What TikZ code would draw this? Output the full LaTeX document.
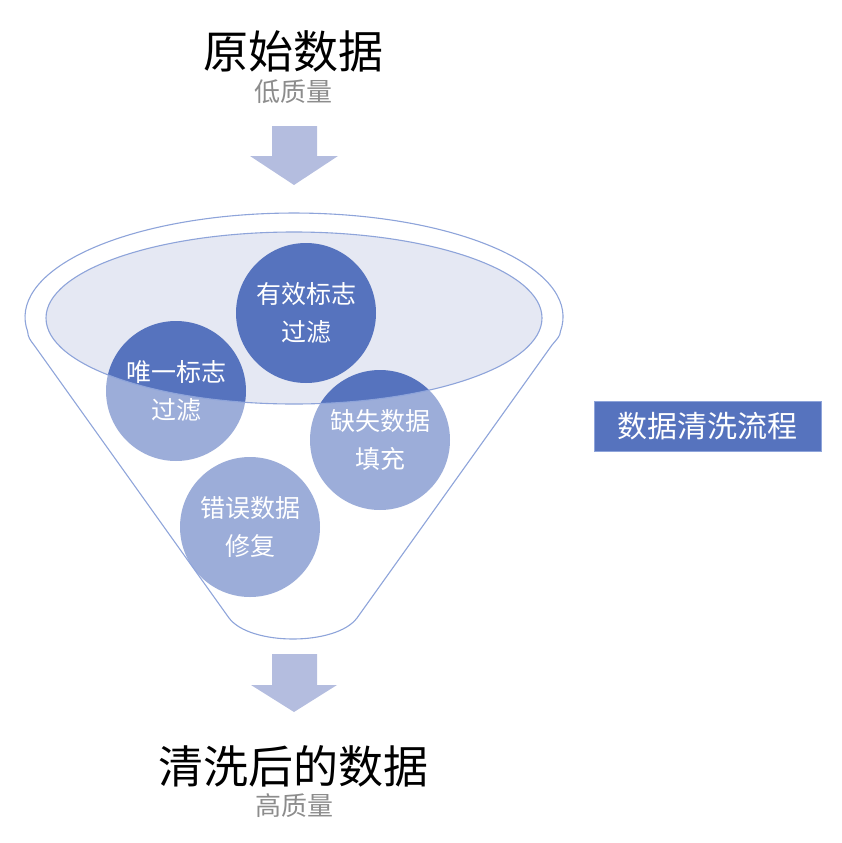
\documentclass[tikz,border=0pt]{standalone}
\usepackage{fontspec}
\usepackage{tikz}
\usetikzlibrary{positioning}
\newfontfamily\cjk{Noto Sans CJK SC}
\definecolor{cblue}{HTML}{5673BE}
\definecolor{cedge}{HTML}{8EA4DA}
\definecolor{cmouth}{HTML}{E5E8F3}
\definecolor{carrow}{HTML}{B4BDDF}
\definecolor{cgray}{HTML}{8C8C8C}

\begin{document}
\begin{tikzpicture}[x=1pt, y=-1pt,
    bubble/.style={circle, fill=cblue, minimum size=140pt, inner sep=0pt},
    bubbletext/.style={text=white, align=center, font=\cjk\fontsize{25}{38}\selectfont},
    bigtitle/.style={font=\cjk\fontsize{45}{54}\selectfont},
    subtitle/.style={text=cgray, font=\cjk\fontsize{26}{30}\selectfont},
    funnelline/.style={cedge, line width=1.1pt}]
    \useasboundingbox (0,0) rectangle (842,843);

    % Input and output titles
    \node[bigtitle] (raw) at (293,51) {原始数据};
    \node[subtitle] (rawq) at (293,92) {低质量};
    \node[bigtitle] (clean) at (293,766) {清洗后的数据};
    \node[subtitle] (cleanq) at (294,806) {高质量};

    % Block arrows
    \fill[carrow] (272,126) -- (317,126) -- (317,156) -- (338,156) -- (294,185)
        -- (250,156) -- (272,156) -- cycle;
    \fill[carrow] (272,654) -- (317,654) -- (317,685) -- (337,685) -- (294,712)
        -- (251,685) -- (272,685) -- cycle;

    % Funnel mouth
    \fill[cmouth] (294,318) ellipse [x radius=248, y radius=86];

    % Cleaning steps
    \node[bubble] (valid) at (306,313) {};
    \node[bubble] (unique) at (176,391) {};
    \node[bubble] (missing) at (380,440) {};
    \node[bubble] (error) at (250,527) {};

    % Glass of the funnel body
    \fill[white, opacity=0.42, even odd rule]
        (34,345) -- (229,618) .. controls (250,646) and (336,646) .. (357,618)
        -- (552,345) .. controls (558,338) and (560,336) .. (560.4,331.5)
        arc[start angle=8, end angle=-188, x radius=269, y radius=104]
        .. controls (28,337) and (30,340) .. (34,345) -- cycle
        (294,318) ellipse [x radius=248, y radius=86];
    \draw[funnelline]
        (34,345) -- (229,618) .. controls (250,646) and (336,646) .. (357,618)
        -- (552,345) .. controls (558,338) and (560,336) .. (560.4,331.5)
        arc[start angle=8, end angle=-188, x radius=269, y radius=104]
        .. controls (28,337) and (30,340) .. (34,345) -- cycle;
    \draw[funnelline] (294,318) ellipse [x radius=248, y radius=86];

    % Step labels
    \node[bubbletext] at (valid) {有效标志\\过滤};
    \node[bubbletext] at (unique) {唯一标志\\过滤};
    \node[bubbletext] at (missing) {缺失数据\\填充};
    \node[bubbletext] at (error) {错误数据\\修复};

    % Process label
    \node[fill=cblue, draw=cedge, minimum width=227pt, minimum height=50pt, text=white,
        font=\cjk\fontsize{30}{36}\selectfont] (flow) at (707.5,426) {数据清洗流程};
\end{tikzpicture}
\end{document}
